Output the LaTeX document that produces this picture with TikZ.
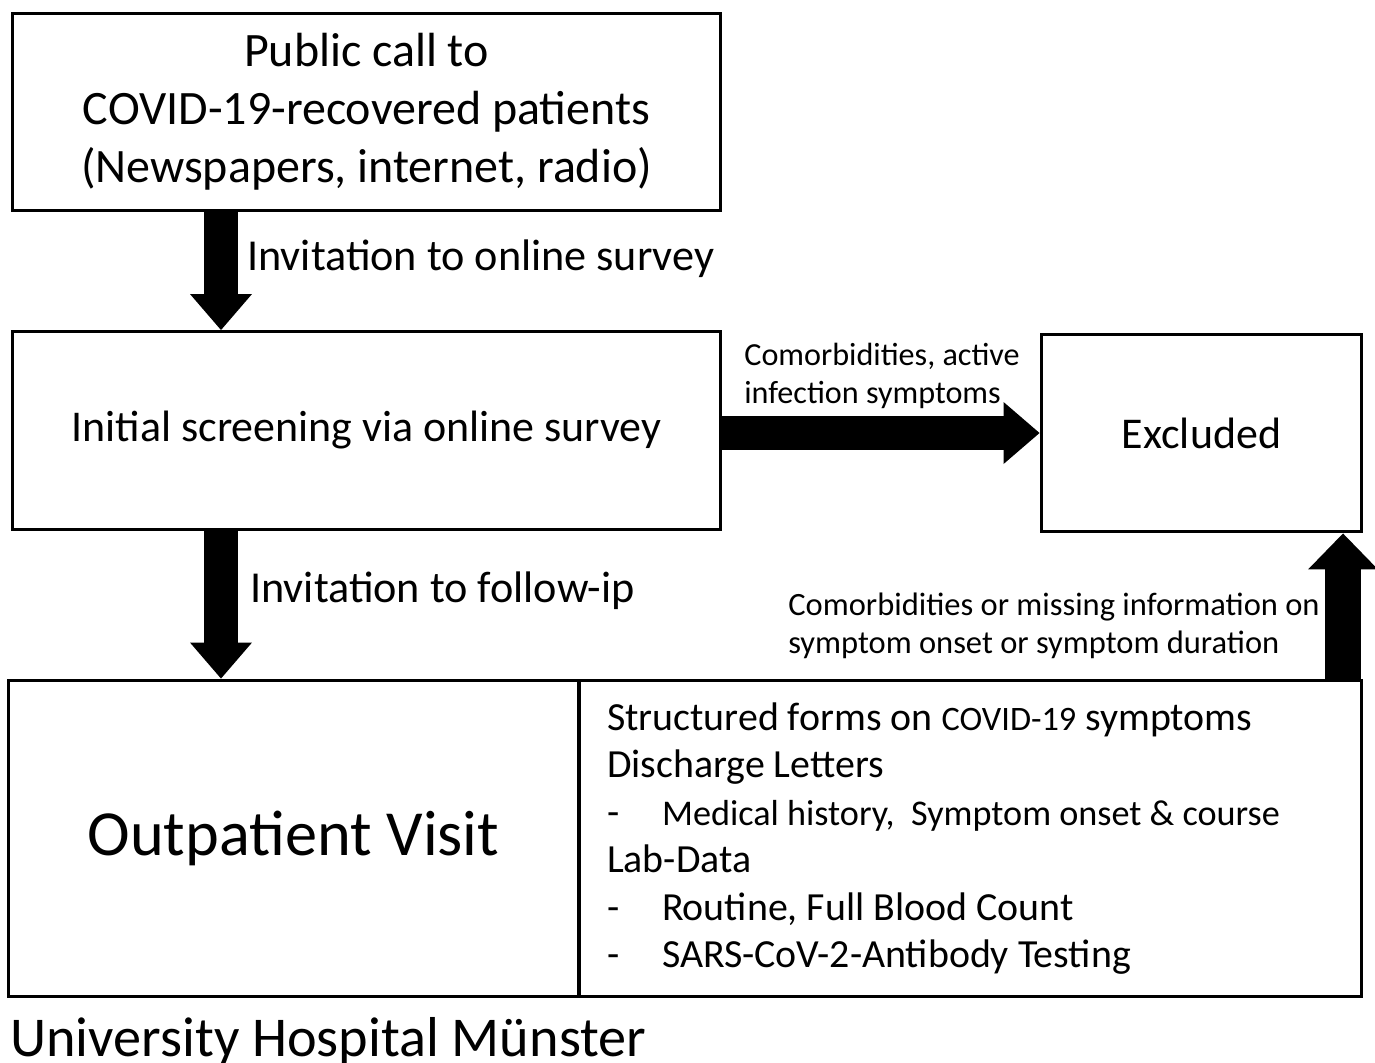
\documentclass[tikz,border=0pt]{standalone}
\usepackage{fontspec}
\setmainfont{Carlito}
\usetikzlibrary{arrows.meta}

\begin{document}
\begin{tikzpicture}[x=0.02cm,y=-0.02cm,
    box/.style={draw,line width=1.7pt,inner sep=0pt,align=flush center,
      font=\fontsize{25}{33}\selectfont},
    bigarrow/.style={line width=0.68cm,
      -{Triangle[length=0.72cm,width=1.24cm,line width=0pt 0 0]}},
    lbl/.style={inner sep=0pt,anchor=base west,align=flush left}]
  \useasboundingbox (0,0) rectangle (1375,1062);
  % boxes
  \node[box,minimum width=14.18cm,minimum height=3.96cm,
    font=\fontsize{27.3}{32.9}\selectfont] (call) at (366.5,112)
    {Public call to\\COVID-19-recovered patients\\(Newspapers, internet, radio)};
  \node[box,minimum width=14.18cm,minimum height=3.96cm] (screen) at (366.5,430.5)
    {Initial screening via online survey};
  \node[box,minimum width=6.42cm,minimum height=3.96cm] (excl) at (1201.5,433)
    {Excluded};
  \node[box,minimum width=11.42cm,minimum height=6.34cm,
    font=\fontsize{36.6}{40}\selectfont] (visit) at (293.5,838.5) {Outpatient Visit};
  \node[box,minimum height=6.34cm,inner xsep=0.56cm,text width=14.54cm,
    align=flush left,font=\fontsize{22.7}{27}\selectfont] (data) at (970.5,838.5)
    {Structured forms on {\fontsize{19.5}{27}\selectfont COVID-19} symptoms\\
     Discharge Letters\\
     \makebox[1.1cm][l]{-}{\fontsize{20.6}{27}\selectfont Medical history,\ \ Symptom onset \& course}\\
     Lab-Data\\
     \makebox[1.1cm][l]{-}Routine, Full Blood Count\\
     \makebox[1.1cm][l]{-}SARS-CoV-2-Antibody Testing};
  % arrows
  \draw[bigarrow] (call.south -| 221,0) -- (screen.north -| 221,0);
  \draw[bigarrow] (screen.south -| 221,0) -- (visit.north -| 221,0);
  \draw[bigarrow] (screen.east |- 0,433) -- (excl.west |- 0,433);
  \draw[bigarrow,line width=0.72cm,
    -{Triangle[length=0.72cm,width=1.4cm,line width=0pt 0 0]}]
    (data.north -| 1343,0) -- (excl.south -| 1343,0);
  % labels
  \node[lbl,font=\fontsize{25.15}{33}\selectfont] (inv1) at (247,270)
    {Invitation to online survey};
  \node[lbl,font=\fontsize{25.15}{33}\selectfont] (inv2) at (250,602)
    {Invitation to follow-ip};
  \node[lbl,font=\fontsize{18.3}{21.5}\selectfont] (why1) at (744,403)
    {Comorbidities, active\\infection symptoms};
  \node[lbl,font=\fontsize{18.5}{21.5}\selectfont] (why2) at (788,653)
    {Comorbidities or missing information on\\symptom onset or symptom duration};
  \node[lbl,font=\fontsize{32}{36}\selectfont] (site) at (10,1056)
    {University Hospital Münster};
\end{tikzpicture}
\end{document}
